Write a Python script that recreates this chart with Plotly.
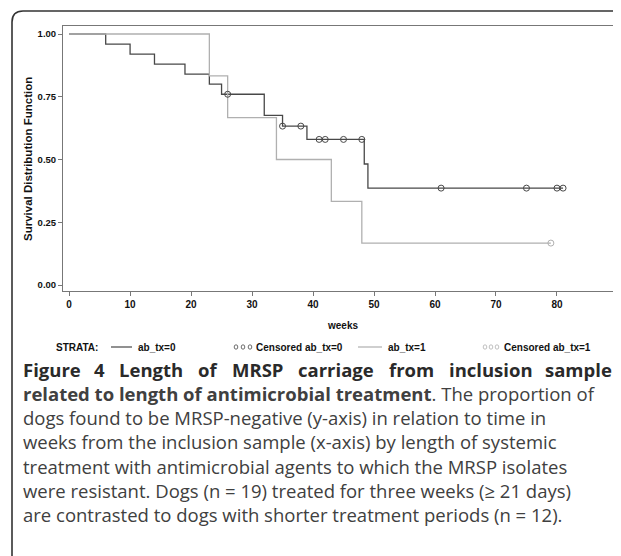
import plotly.graph_objects as go

# ---- data ----
times_tx0 = [0, 6, 10, 14, 19, 23, 25, 32, 35, 39, 48.4, 49, 81]
surv_tx0 = [1.0, 0.96, 0.92, 0.88, 0.84, 0.80, 0.76, 0.676, 0.633, 0.58, 0.482, 0.386, 0.386]
cens_t_tx0 = [26, 35, 38, 41, 42, 45, 48, 61, 75, 80, 81]
cens_s_tx0 = [0.76, 0.633, 0.633, 0.58, 0.58, 0.58, 0.58, 0.386, 0.386, 0.386, 0.386]

times_tx1 = [0, 23, 26, 34, 43, 48, 79]
surv_tx1 = [1.0, 0.833, 0.667, 0.5, 0.333, 0.167, 0.167]
cens_t_tx1 = [79]
cens_s_tx1 = [0.167]

x_ticks = [0, 10, 20, 30, 40, 50, 60, 70, 80, 90]
y_ticks = [0.0, 0.25, 0.5, 0.75, 1.0]
y_tick_labels = ["0.00", "0.25", "0.50", "0.75", "1.00"]

caption_title = "Figure 4 Length of MRSP carriage from inclusion sample"
caption_lines = [
    "<b>related to length of antimicrobial treatment</b>. The proportion of",
    "dogs found to be MRSP-negative (y-axis) in relation to time in",
    "weeks from the inclusion sample (x-axis) by length of systemic",
    "treatment with antimicrobial agents to which the MRSP isolates",
    "were resistant. Dogs (n = 19) treated for three weeks (\u2265 21 days)",
    "are contrasted to dogs with shorter treatment periods (n = 12).",
]

# ---- layout geometry ----
# the page body has an 8px margin, so the figure is 8px smaller and
# all helper coordinates below are given in page pixels
OFF = 8
W, H = 621 - OFF, 556 - OFF
PLOT_L, PLOT_T, PLOT_B = 63, 26, 291          # page pixels
L, T, R = PLOT_L - OFF, PLOT_T - OFF, 0
B = H - (PLOT_B - OFF)
PW, PH = W - L - R, H - T - B


def px(x):
    return (x - OFF - L) / PW


def py(y):
    return (PLOT_B - y) / PH


DARK = "#484848"
LIGHT = "#b0b0b0"
AXFONT = "Liberation Sans, Arial, sans-serif"
CAPFONT = "Open Sans, Noto Sans, sans-serif"
CAPSIZE = 18.5

fig = go.Figure()
fig.add_trace(go.Scatter(x=times_tx0, y=surv_tx0, mode="lines", line=dict(shape="hv", color=DARK, width=1.3),
                         showlegend=False, hoverinfo="skip"))
fig.add_trace(go.Scatter(x=times_tx1, y=surv_tx1, mode="lines", line=dict(shape="hv", color=LIGHT, width=1.3),
                         showlegend=False, hoverinfo="skip"))
fig.add_trace(go.Scatter(x=cens_t_tx0, y=cens_s_tx0, mode="markers",
                         marker=dict(symbol="circle-open", size=6, color=DARK, line=dict(width=1)),
                         showlegend=False, hoverinfo="skip"))
fig.add_trace(go.Scatter(x=cens_t_tx1, y=cens_s_tx1, mode="markers",
                         marker=dict(symbol="circle-open", size=6, color=LIGHT, line=dict(width=1)),
                         showlegend=False, hoverinfo="skip"))

fig.update_layout(
    width=W, height=H,
    margin=dict(l=L, r=R, t=T, b=B, pad=0),
    paper_bgcolor="white", plot_bgcolor="white",
    showlegend=False,
    xaxis=dict(range=[-1, 90.5], tickvals=x_ticks, ticks="outside", ticklen=4, tickcolor="#777",
               showline=True, linecolor="#777", linewidth=1, mirror=True, showgrid=False, zeroline=False,
               tickfont=dict(family=AXFONT, size=10, color="#111", weight="bold")),
    yaxis=dict(range=[-0.0239, 1.0319], tickvals=y_ticks, ticktext=y_tick_labels, ticks="outside", ticklen=4,
               tickcolor="#777", showline=True, linecolor="#777", linewidth=1, showgrid=False, zeroline=False,
               tickfont=dict(family=AXFONT, size=9.5, color="#111", weight="bold")),
)

ann = []


def add_text(text, x, y, size=10, xanchor="left", angle=0, family=AXFONT, color="#111"):
    ann.append(dict(text=text, x=px(x), y=py(y), xref="paper", yref="paper", xanchor=xanchor,
                    yanchor="middle", textangle=angle, showarrow=False,
                    font=dict(family=family, size=size, color=color)))


# axis titles
add_text("<b>Survival Distribution Function</b>", 28, 159, size=11.5, xanchor="center", angle=-90)
add_text("<b>weeks</b>", 342, 325, xanchor="center")

# legend
leg_y = 347
add_text("<b>STRATA:</b>", 54, leg_y)
add_text("<b>ab_tx=0</b>", 136, leg_y)
add_text("<b>Censored ab_tx=0</b>", 254, leg_y)
add_text("<b>ab_tx=1</b>", 386, leg_y)
add_text("<b>Censored ab_tx=1</b>", 502, leg_y)

# caption: first (bold) line is justified between x=21 and x=614
BOLD_W = {"a": .586, "c": .514, "e": .598, "f": .398, "g": .557, "h": .654, "i": .307, "l": .307,
          "m": .983, "n": .654, "o": .619, "p": .625, "r": .454, "s": .497, "t": .434, "u": .654,
          "F": .575, "L": .546, "M": .948, "R": .668, "S": .55, "P": .635, "4": .572}
cap_x0, cap_x1 = 21, 614
cap_y0, cap_dy = 369, 24.3
words = caption_title.split(" ")
wwidths = [sum(BOLD_W.get(ch, .6) for ch in w) * CAPSIZE for w in words]
gap = (cap_x1 - cap_x0 - sum(wwidths)) / (len(words) - 1)
xpos = cap_x0
for i, (w, ww) in enumerate(zip(words, wwidths)):
    if i == 0:
        add_text("<b>%s</b>" % w, cap_x0, cap_y0, size=CAPSIZE, family=CAPFONT, color="#2a2a2a")
    elif i == len(words) - 1:
        add_text("<b>%s</b>" % w, cap_x1, cap_y0, size=CAPSIZE, family=CAPFONT, color="#2a2a2a",
                 xanchor="right")
    else:
        add_text("<b>%s</b>" % w, xpos + ww / 2, cap_y0, size=CAPSIZE, family=CAPFONT, color="#2a2a2a",
                 xanchor="center")
    xpos += ww + gap

for i, line in enumerate(caption_lines):
    add_text(line, cap_x0, cap_y0 + (i + 1) * cap_dy, size=CAPSIZE, family=CAPFONT, color="#404040")
fig.update_layout(annotations=ann)

shapes = []
# legend line samples
shapes.append(dict(type="line", xref="paper", yref="paper", x0=px(111), x1=px(132), y0=py(leg_y), y1=py(leg_y),
                   line=dict(color=DARK, width=1.2)))
shapes.append(dict(type="line", xref="paper", yref="paper", x0=px(358), x1=px(382), y0=py(leg_y), y1=py(leg_y),
                   line=dict(color=LIGHT, width=1.2)))
# legend censor circles
for cx, col in [(236, DARK), (243, DARK), (250, DARK), (485, LIGHT), (491, LIGHT), (497, LIGHT)]:
    shapes.append(dict(type="circle", xref="paper", yref="paper", x0=px(cx - 1.8), x1=px(cx + 1.8),
                       y0=py(leg_y - 2.2), y1=py(leg_y + 2.2), line=dict(color=col, width=0.8)))
# outer rounded frame
path = "M {a},{b} L {c},{b} Q {d},{b} {d},{e} L {d},{f}".format(
    a=px(640), b=py(11), c=px(23), d=px(12), e=py(22), f=py(570))
shapes.append(dict(type="path", xref="paper", yref="paper", path=path, line=dict(color="#333", width=1.6)))
fig.update_layout(shapes=shapes)

fig.write_html("out.html")
